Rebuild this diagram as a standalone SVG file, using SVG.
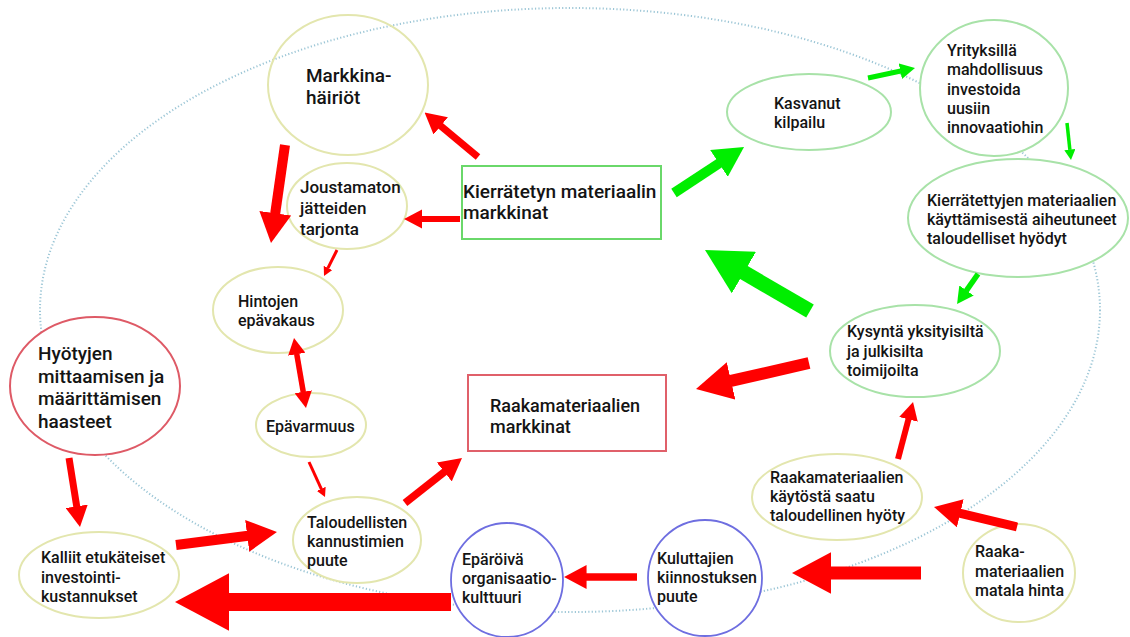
<svg xmlns="http://www.w3.org/2000/svg" width="1130" height="637" viewBox="0 0 1130 637">
<style>
text{font-family:Roboto,"Liberation Sans",sans-serif;font-weight:500;fill:#141414;font-size:16px}
.ny{fill:#fff;stroke:#e3e6ae;stroke-width:2}
.ng{fill:#fff;stroke:#a8e2a8;stroke-width:2}
.nb{fill:#fff;stroke:#6e6ee0;stroke-width:1.8}
.nr{fill:#fff;stroke:#de5a66;stroke-width:2}
.rg{fill:#fff;stroke:#6ad86a;stroke-width:2}
.rr{fill:#fff;stroke:#e0606a;stroke-width:2}
.r{stroke:#ff0000;fill:none;stroke-linecap:butt;marker-end:url(#hr)}
.g{stroke:#00ee00;fill:none;stroke-linecap:butt;marker-end:url(#hg)}
</style>
<defs>
<marker id="hr" viewBox="0 -1.6 3 3.2" refX="0.1" refY="0" markerWidth="3" markerHeight="3.2" markerUnits="strokeWidth" orient="auto-start-reverse"><path d="M0,-1.6 L3,0 L0,1.6 z" fill="#ff0000"/></marker>
<marker id="hg" viewBox="0 -1.6 3 3.2" refX="0.1" refY="0" markerWidth="3" markerHeight="3.2" markerUnits="strokeWidth" orient="auto-start-reverse"><path d="M0,-1.6 L3,0 L0,1.6 z" fill="#00ee00"/></marker>
</defs>
<rect width="1130" height="637" fill="#fff"/>
<ellipse id="loop" cx="570" cy="310" rx="530" ry="302" fill="none" stroke="#9cc6d6" stroke-width="2" stroke-dasharray="1.2 2.2"/>

<g id="markkinahairiot"><ellipse class="ny" style="fill:none" cx="348" cy="85" rx="80" ry="70"/><text x="306" y="82" style="font-size:19px">Markkina-</text><text x="306" y="104" style="font-size:19px">häiriöt</text></g>
<g id="joustamaton"><ellipse class="ny" cx="347" cy="206" rx="60" ry="43"/><text x="300" y="193" style="font-size:17px">Joustamaton</text><text x="300" y="214" style="font-size:17px">jätteiden</text><text x="300" y="235" style="font-size:17px">tarjonta</text></g>
<g id="hintojen"><ellipse class="ny" cx="278" cy="310" rx="65" ry="43"/><text x="238" y="307">Hintojen</text><text x="238" y="326">epävakaus</text></g>
<g id="epavarmuus"><ellipse class="ny" cx="311" cy="425" rx="55" ry="32"/><text x="266" y="432">Epävarmuus</text></g>
<g id="taloudellisten"><ellipse class="ny" cx="357" cy="540" rx="64" ry="43"/><text x="307" y="528">Taloudellisten</text><text x="307" y="547">kannustimien</text><text x="307" y="566">puute</text></g>
<g id="hyotyjen"><ellipse class="nr" cx="95" cy="386" rx="85" ry="69"/><text x="38" y="360" style="font-size:19px">Hyötyjen</text><text x="38" y="383" style="font-size:19px">mittaamisen ja</text><text x="38" y="405" style="font-size:19px">määrittämisen</text><text x="38" y="428" style="font-size:19px">haasteet</text></g>
<g id="kalliit"><ellipse class="ny" cx="99" cy="575" rx="80" ry="43"/><text x="41" y="563">Kalliit etukäteiset</text><text x="41" y="583">investointi-</text><text x="41" y="602">kustannukset</text></g>
<g id="kierratetyn"><rect class="rg" x="462" y="166" width="199" height="73"/><text x="463" y="198" style="font-size:19px">Kierrätetyn materiaalin</text><text x="463" y="219" style="font-size:19px">markkinat</text></g>
<g id="raakamarkkinat"><rect class="rr" x="468" y="375" width="198" height="76"/><text x="490" y="412" style="font-size:18px">Raakamateriaalien</text><text x="490" y="433" style="font-size:18px">markkinat</text></g>
<g id="kasvanut"><ellipse class="ng" cx="809" cy="112" rx="82" ry="38"/><text x="774" y="109">Kasvanut</text><text x="774" y="128">kilpailu</text></g>
<g id="yrityksilla"><ellipse class="ng" cx="994" cy="88" rx="74" ry="68"/><text x="947" y="56">Yrityksillä</text><text x="947" y="75">mahdollisuus</text><text x="947" y="95">investoida</text><text x="947" y="114">uusiin</text><text x="947" y="133">innovaatiohin</text></g>
<g id="kierratettyjen"><ellipse class="ng" cx="1018" cy="218" rx="110" ry="59"/><text x="927" y="206">Kierrätettyjen materiaalien</text><text x="927" y="225">käyttämisestä aiheutuneet</text><text x="927" y="244">taloudelliset hyödyt</text></g>
<g id="kysynta"><ellipse class="ng" cx="915" cy="351" rx="85" ry="46"/><text x="847" y="337">Kysyntä yksityisiltä</text><text x="847" y="357">ja julkisilta</text><text x="847" y="376">toimijoilta</text></g>
<g id="kaytosta"><ellipse class="ny" cx="837" cy="497" rx="85" ry="43"/><text x="770" y="483">Raakamateriaalien</text><text x="770" y="502">käytöstä saatu</text><text x="770" y="521">taloudellinen hyöty</text></g>
<g id="matalahinta"><ellipse class="ny" cx="1019" cy="573" rx="56" ry="49"/><text x="975" y="557">Raaka-</text><text x="975" y="577">materiaalien</text><text x="975" y="596">matala hinta</text></g>
<g id="kuluttajien"><ellipse class="nb" cx="705" cy="578" rx="57" ry="58"/><text x="657" y="564">Kuluttajien</text><text x="657" y="583">kiinnostuksen</text><text x="657" y="602">puute</text></g>
<g id="eparoiva"><ellipse class="nb" cx="507" cy="580" rx="56" ry="57"/><text x="462" y="565">Epäröivä</text><text x="462" y="584">organisaatio-</text><text x="462" y="603">kulttuuri</text></g>

<g id="connectors">
<line class="r" x1="478" y1="157" x2="440.2" y2="125.5" stroke-width="7"/>
<line class="r" x1="285" y1="145" x2="275.1" y2="214.3" stroke-width="10"/>
<line class="r" x1="460" y1="219" x2="421.4" y2="219" stroke-width="6"/>
<line class="r" x1="337" y1="250" x2="327.9" y2="268.2" stroke-width="3"/>
<line class="r" x1="296.7" y1="353.7" x2="303.3" y2="392.3" stroke-width="5.5" style="marker-start:url(#hr)"/>
<line class="r" x1="309" y1="462" x2="321.4" y2="489.1" stroke-width="3"/>
<line class="r" x1="405" y1="503" x2="444.9" y2="471.5" stroke-width="7.5"/>
<line class="r" x1="69" y1="458" x2="76.8" y2="507" stroke-width="7"/>
<line class="r" x1="176" y1="545" x2="248.2" y2="535.7" stroke-width="10"/>
<line class="r" x1="451" y1="602" x2="227.2" y2="602" stroke-width="18"/>
<line class="g" x1="674" y1="193" x2="719.8" y2="162.9" stroke-width="10"/>
<line class="g" x1="868" y1="78" x2="900.8" y2="71" stroke-width="5"/>
<line class="g" x1="1067" y1="123" x2="1069.9" y2="149.9" stroke-width="3.5"/>
<line class="g" x1="978" y1="274" x2="966.2" y2="290.9" stroke-width="5.5"/>
<line class="g" x1="810" y1="311" x2="742.6" y2="271.8" stroke-width="15"/>
<line class="r" x1="809" y1="363" x2="729.9" y2="381.2" stroke-width="12"/>
<line class="r" x1="898" y1="459" x2="908.6" y2="418.8" stroke-width="6"/>
<line class="r" x1="1017" y1="527" x2="959.4" y2="513.1" stroke-width="9"/>
<line class="r" x1="921" y1="573" x2="829.7" y2="573" stroke-width="13"/>
<line class="r" x1="637" y1="577" x2="585.8" y2="577" stroke-width="7.5"/>
</g>
</svg>
